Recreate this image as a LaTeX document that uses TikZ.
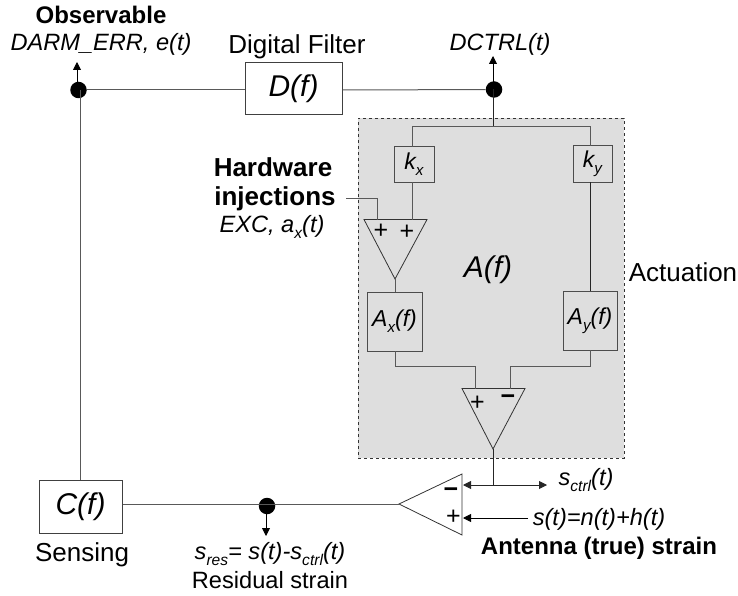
\documentclass[tikz,border=0pt]{standalone}
\usepackage{fontspec}
\setmainfont{Liberation Sans}
\usetikzlibrary{arrows.meta}
\newcommand{\fsz}[1]{\fontsize{#1}{#1}\selectfont}
\newcommand{\sbs}[1]{\raisebox{-0.27em}{\scalebox{0.66}{#1}}}
\begin{document}
\begin{tikzpicture}[x=1pt,y=-1pt,
  wire/.style={draw=black!65,line width=1pt},
  wireb/.style={draw=black!85,line width=0.9pt},
  arr/.style={draw=black,line width=0.9pt,-{Triangle[length=8pt,width=8pt]}},
  dbl/.style={draw=black!85,line width=0.9pt,{Triangle[length=8pt,width=8pt]}-{Triangle[length=8pt,width=8pt]}},
  dot/.style={circle,fill=black,inner sep=0pt,minimum size=16.5pt},
  bigbox/.style={draw=black!75,line width=1pt,fill=white,inner sep=0pt,font=\fsz{30}\itshape},
  smallbox/.style={draw=black!70,line width=1pt,fill=black!13,inner sep=0pt,font=\fsz{23}\itshape},
  tri/.style={draw=black!80,line width=0.8pt},
  lab/.style={inner sep=0pt,font=\fsz{26}},
  ilab/.style={inner sep=0pt,font=\fsz{23.6}\itshape},
  blab/.style={inner sep=0pt,font=\fsz{24}\bfseries},
  sym/.style={inner sep=0pt,font=\fsz{25}},
]
\useasboundingbox (0,0) rectangle (738,596);
\node[draw=black!80,dashed,line width=0.8pt,fill=black!13,minimum width=266pt,minimum height=340pt,inner sep=0pt] (act) at (491,288) {};

\node[bigbox,minimum width=97pt,minimum height=52pt] (D) at (293.5,89) {D(f)};
\node[bigbox,minimum width=83pt,minimum height=53pt] (C) at (80.5,506.5) {C(f)};
\node[dot] (dl) at (78.5,90) {};
\node[dot] (dr) at (494,89.5) {};
\node[dot] (ds) at (267,506) {};
\node[smallbox,minimum width=40pt,minimum height=35pt] (kx) at (414,164.5) {k\sbs{x}};
\node[smallbox,minimum width=39pt,minimum height=36pt] (ky) at (592.5,164) {k\sbs{y}};
\node[smallbox,minimum width=55pt,minimum height=59pt] (Ax) at (394.5,321.5) {A\sbs{x}(f)};
\node[smallbox,minimum width=54pt,minimum height=59pt] (Ay) at (590,320.5) {A\sbs{y}(f)};

% triangles
\coordinate (t1a) at (364,219.5); \coordinate (t1b) at (427,219.5); \coordinate (t1c) at (395,279);
\coordinate (t2a) at (462,388.5); \coordinate (t2b) at (525,388.5); \coordinate (t2c) at (493,449);
\coordinate (t3a) at (462,474); \coordinate (t3b) at (462,535); \coordinate (t3c) at (399,504);
\draw[tri] (t1a) -- (t1b) -- (t1c) -- cycle;
\draw[tri] (t2a) -- (t2b) -- (t2c) -- cycle;
\draw[tri] (t3a) -- (t3b) -- (t3c) -- cycle;

% wiring
\draw[wire] (dl) -- (dl -| D.west);
\draw[wire] (dl -| D.east) -- (dr);
\draw[wire] (80,90) -- (80,480);
\coordinate (obsT) at (77,62);
\coordinate (dcT) at (493,56);
\draw[arr] (77,90) -- (obsT);
\draw[arr] (493,89) -- (dcT);
\coordinate (split) at (493,127);
\draw[wireb] (493,89) -- (split);
\draw[wire] (412,147) -- (412,127) -- (590.5,127) -- (590.5,146);
\draw[wire] (412,182) -- (412,219.5);
\draw[wireb] (590.5,182) -- (590.5,291);
\draw[wire] (395,279) -- (395,292);
\coordinate (inj) at (346,198);
\draw[wire] (inj) -- (377,198) -- (377,219.5);
\draw[wire] (395,351) -- (395,366) -- (475,366) -- (475,388.5);
\draw[wire] (590.5,350) -- (590.5,366) -- (510,366) -- (510,388.5);
\coordinate (mid) at (493,485);
\draw[wireb] (t2c) -- (mid);
\coordinate (sR) at (547,485);
\coordinate (sL) at (463,485);
\draw[dbl] (sL) -- (sR);
\coordinate (stS) at (528,518);
\coordinate (stE) at (463,518);
\draw[arr] (stS) -- (stE);
\draw[wire] (C.east |- t3c) -- (t3c);
\coordinate (res) at (266,536);
\draw[arr] (266,506) -- (res);

% symbols
\node[sym] (p1) at (381,231) {+};
\node[sym] (p2) at (407,232) {+};
\node[sym] (p3) at (477.5,403) {+};
\node[sym,font=\fsz{25}\bfseries] (m1) at (508,400) {−};
\node[sym,font=\fsz{25}\bfseries] (m2) at (451,493) {−};
\node[sym] (p4) at (453.5,517) {+};

% labels
\node[blab] (t1) at (101,15) {Observable};
\node[ilab] (t2) at (101,44) {DARM\_ERR, e(t)};
\node[lab] (t3) at (297,47) {Digital Filter};
\node[ilab] (t4) at (500,44) {DCTRL(t)};
\node[blab,font=\fsz{26}\bfseries] (t5) at (273,167) {Hardware};
\node[blab,font=\fsz{26}\bfseries] (t6) at (275,199) {injections};
\node[ilab] (t7) at (272,227) {EXC, a\sbs{x}(t)};
\node[ilab,font=\fsz{30}\itshape] (t8) at (488,270) {A(f)};
\node[lab] (t9) at (683,272) {Actuation};
\node[ilab] (t10) at (586,480) {s\sbs{ctrl}(t)};
\node[ilab] (t12) at (599,519) {s(t)=n(t)+h(t)};
\node[blab] (t13) at (599,548) {Antenna (true) strain};
\node[lab] (t14) at (82,555) {Sensing};
\node[ilab] (t15) at (270,554) {s\sbs{res}= s(t)-s\sbs{ctrl}(t)};
\node[lab,font=\fsz{23.6}] (t16) at (270,580) {Residual strain};
\end{tikzpicture}
\end{document}
